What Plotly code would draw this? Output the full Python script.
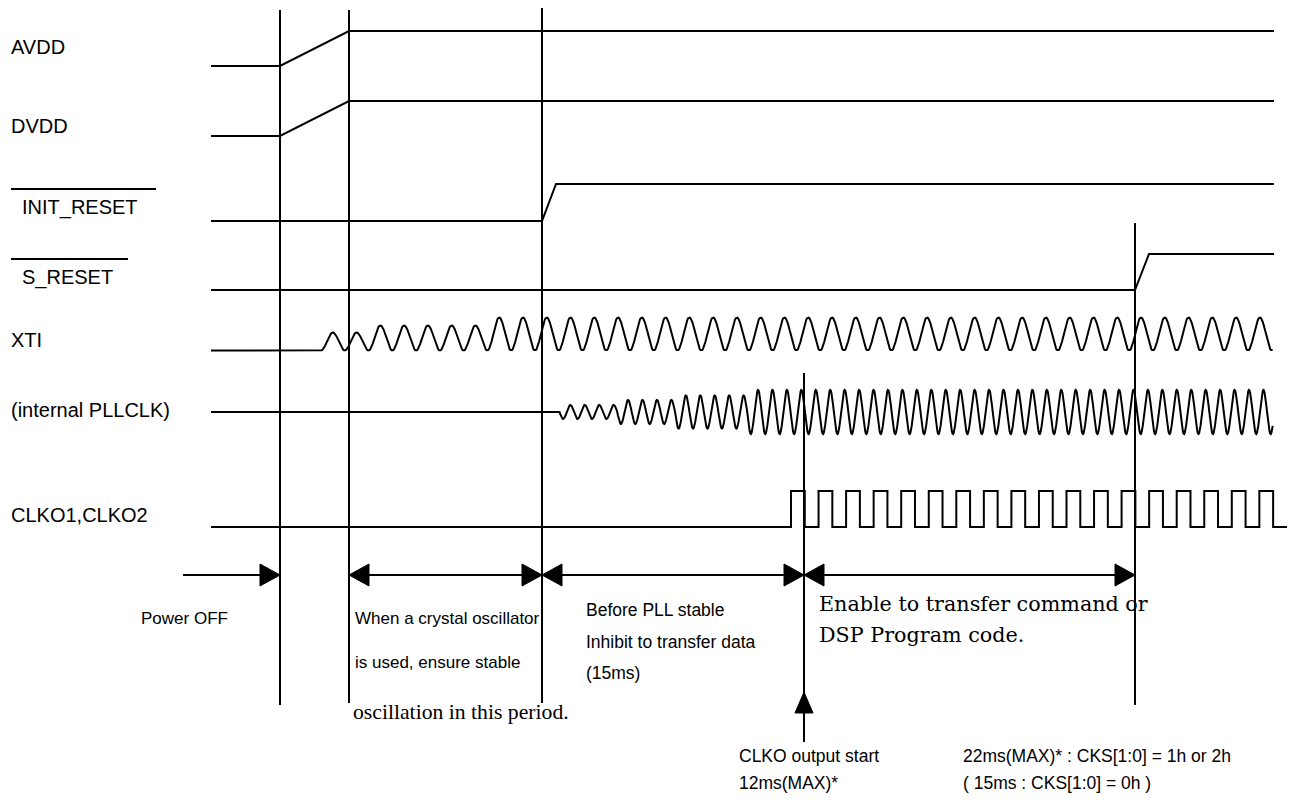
import numpy as np
import plotly.graph_objects as go

W, H = 1289, 805

# ---------------- timing events (diagram time axis) ----------------
t_begin = 211            # left start of all waveforms
t_end = 1274             # right end of level signals
t_power_on = 280         # supplies start ramping
t_power_ok = 349         # supplies reach full level
t_init_release = 542     # INIT_RESET released
t_clko_start = 804       # CLKO output start (12ms MAX)
t_sreset_release = 1135  # S_RESET released
reset_rise = 14          # slope width of reset edges

# vertical event markers
marker_x = [280, 349, 542, 804, 1135]
marker_top = [10, 10, 8, 373, 223]
marker_bottom = [705, 703, 703, 742, 705]

# ---------------- signal levels (low, high) ----------------
avdd_levels = [66, 31]
dvdd_levels = [136, 101]
init_reset_levels = [221, 184]
s_reset_levels = [290, 254]

# XTI oscillator: baseline, start, period, peak height per cycle
xti_base = 350.5
xti_start = 321
xti_period = 23.77
xti_cycle_amp = [18, 18, 25, 25, 25, 25, 25]
xti_steady_amp = 33
xti_stop = 1273

# internal PLLCLK: centre, start, period, half-amplitude per cycle
pll_center = 412
pll_start = 559.5
pll_period = 14.44
pll_cycle_amp = [7, 7, 7, 7, 12, 12, 12, 12, 16.5, 16.5, 16.5, 16.5, 16.5]
pll_steady_amp = 22
pll_stop = 1273

# CLKO1/CLKO2 square clock
clko_levels = [527, 491]
clko_rise = 791
clko_period = 27.55
clko_last_fall = 1273.5
clko_stop = 1287

# ---------------- labels ----------------
signal_labels = ["AVDD", "DVDD", "INIT_RESET", "S_RESET", "XTI",
                 "(internal PLLCLK)", "CLKO1,CLKO2"]
signal_label_x = [9, 9, 20, 20, 9, 9, 9]
signal_label_y = [47, 126, 207, 277, 340, 410, 515]
overline_y = [None, None, 189, 259, None, None, None]
overline_x_end = [None, None, 156, 128, None, None, None]

arrow_row_y = 575
power_off_arrow = [183, 280]
period_spans = [(349, 542), (542, 804), (804, 1135)]
clko_arrow_tip = 692
clko_arrow_base = 713

SANS = "Liberation Sans, Arial, sans-serif"
SERIF = "DejaVu Serif, serif"
TIMES = "Liberation Serif, Times New Roman, serif"
LABEL_SIZE = 20
NOTE_SIZE = 17.5

notes = [
    ("Power OFF", 139, 618, SANS, 17),
    ("When a crystal oscillator", 353, 618, SANS, 17),
    ("is used, ensure stable", 353, 662, SANS, 17),
    ("oscillation in this period.", 351, 712, TIMES, 21.7),
    ("Before PLL stable", 584, 610, SANS, NOTE_SIZE),
    ("Inhibit to transfer data", 584, 642, SANS, NOTE_SIZE),
    ("(15ms)", 584, 673, SANS, NOTE_SIZE),
    ("Enable to transfer command or", 817, 604, SERIF, 20.7),
    ("DSP Program code.", 817, 635, SERIF, 20.7),
    ("CLKO output start", 737, 756, SANS, NOTE_SIZE),
    ("12ms(MAX)*", 737, 783, SANS, NOTE_SIZE),
    ("22ms(MAX)* : CKS[1:0] = 1h or 2h", 961, 756, SANS, NOTE_SIZE),
    ("( 15ms : CKS[1:0] = 0h )", 961, 783, SANS, NOTE_SIZE),
]

LW = 2
BLACK = "black"

fig = go.Figure()


def add_line(xs, ys, width=LW):
    fig.add_trace(go.Scatter(x=xs, y=ys, mode="lines",
                             line=dict(color=BLACK, width=width),
                             hoverinfo="skip", showlegend=False))


def add_tri(xs, ys):
    fig.add_trace(go.Scatter(x=xs, y=ys, mode="lines", fill="toself",
                             fillcolor=BLACK, line=dict(color=BLACK, width=1),
                             hoverinfo="skip", showlegend=False))


# supplies
for low, high in (avdd_levels, dvdd_levels):
    add_line([t_begin, t_power_on, t_power_ok, t_end], [low, low, high, high])

# resets
add_line([t_begin, t_init_release, t_init_release + reset_rise, t_end],
         [init_reset_levels[0], init_reset_levels[0], init_reset_levels[1], init_reset_levels[1]])
add_line([t_begin, t_sreset_release, t_sreset_release + reset_rise, t_end],
         [s_reset_levels[0], s_reset_levels[0], s_reset_levels[1], s_reset_levels[1]])

# XTI (oscillation sits on the baseline)
xs, ys = [t_begin, xti_start], [xti_base, xti_base]
i = 0
while True:
    x0 = xti_start + i * xti_period
    if x0 >= xti_stop:
        break
    a = xti_cycle_amp[i] if i < len(xti_cycle_amp) else xti_steady_amp
    ph = np.linspace(0, 1, 30)
    px = x0 + ph * xti_period
    keep = px <= xti_stop
    xs += list(px[keep])
    ys += list(xti_base - a * (1 - np.cos(2 * np.pi * ph[keep])) / 2)
    i += 1
add_line(xs, ys)

# internal PLLCLK (centred oscillation)
xs, ys = [t_begin, pll_start], [pll_center, pll_center]
i = 0
while True:
    x0 = pll_start + i * pll_period
    if x0 >= pll_stop:
        break
    a = pll_cycle_amp[i] if i < len(pll_cycle_amp) else pll_steady_amp
    ph = np.linspace(0, 1, 24)
    px = x0 + ph * pll_period
    keep = px <= pll_stop
    xs += list(px[keep])
    ys += list(pll_center + a * np.sin(2 * np.pi * ph[keep]))
    i += 1
add_line(xs, ys)

# CLKO square wave
lo, hi = clko_levels
xs, ys = [t_begin], [lo]
k = 0
while True:
    r = clko_rise + k * clko_period
    f = r + clko_period / 2
    if f > clko_last_fall + 1:
        break
    xs += [r, r, f, f]
    ys += [lo, hi, hi, lo]
    k += 1
xs.append(clko_stop)
ys.append(lo)
add_line(xs, ys)

# vertical markers
for x, t, b in zip(marker_x, marker_top, marker_bottom):
    add_line([x, x], [t, b])

# arrows on the period row
HL, HW = 20, 11
add_line([power_off_arrow[0], power_off_arrow[1] - HL], [arrow_row_y, arrow_row_y])
add_tri([power_off_arrow[1], power_off_arrow[1] - HL, power_off_arrow[1] - HL, power_off_arrow[1]],
        [arrow_row_y, arrow_row_y - HW, arrow_row_y + HW, arrow_row_y])
for a, b in period_spans:
    add_line([a + HL, b - HL], [arrow_row_y, arrow_row_y])
    add_tri([a, a + HL, a + HL, a], [arrow_row_y, arrow_row_y - HW, arrow_row_y + HW, arrow_row_y])
    add_tri([b, b - HL, b - HL, b], [arrow_row_y, arrow_row_y - HW, arrow_row_y + HW, arrow_row_y])

# CLKO start arrow head (pointing up)
add_tri([t_clko_start, t_clko_start - 9, t_clko_start + 9, t_clko_start],
        [clko_arrow_tip, clko_arrow_base, clko_arrow_base, clko_arrow_tip])

# signal name labels (with overbars for active-low resets)
for name, lx, ly, oy, ox in zip(signal_labels, signal_label_x, signal_label_y,
                                overline_y, overline_x_end):
    fig.add_annotation(x=lx, y=ly, xref="x", yref="y", text=name, showarrow=False,
                       xanchor="left", yanchor="middle",
                       font=dict(family=SANS, size=LABEL_SIZE, color=BLACK))
    if oy is not None:
        add_line([11, ox], [oy, oy])

for txt, x, y, fam, size in notes:
    fig.add_annotation(x=x, y=y, xref="x", yref="y", text=txt, showarrow=False,
                       xanchor="left", yanchor="middle",
                       font=dict(family=fam, size=size, color=BLACK))

fig.update_layout(
    width=W, height=H,
    margin=dict(l=0, r=0, t=0, b=0),
    paper_bgcolor="white", plot_bgcolor="white",
    showlegend=False,
    xaxis=dict(range=[0, W], visible=False, fixedrange=True),
    yaxis=dict(range=[H, 0], visible=False, fixedrange=True),
)

fig.write_html("out.html",
               config={"displayModeBar": False, "staticPlot": True},
               post_script="document.body.style.margin='0';document.body.style.overflow='hidden';")
